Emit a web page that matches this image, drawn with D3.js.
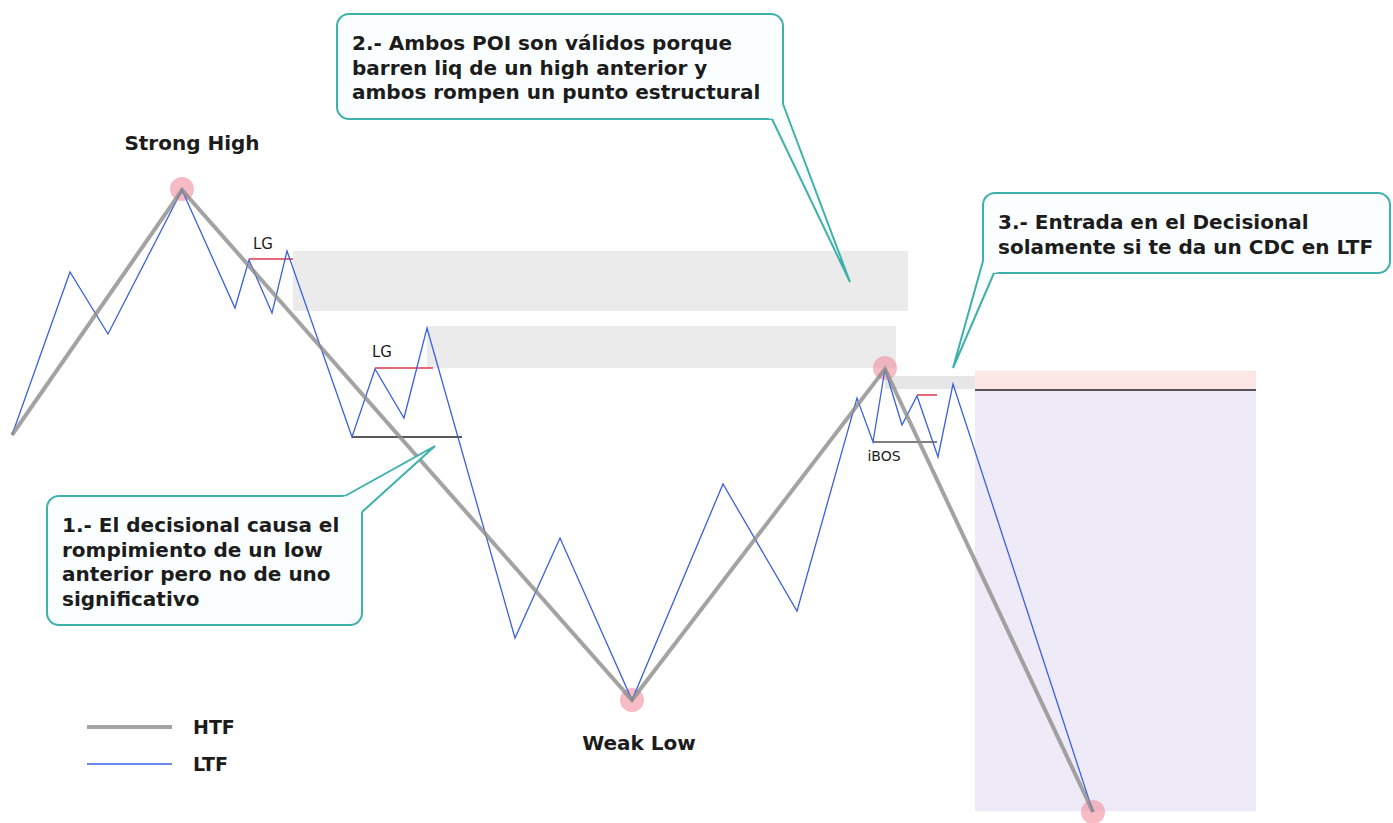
<!DOCTYPE html>
<html>
<head>
<meta charset="utf-8">
<script src="https://cdn.jsdelivr.net/npm/d3@7"></script>
<style>
  html, body { margin: 0; padding: 0; background: #fff; }
  svg { display: block; font-family: "DejaVu Sans", sans-serif; }
</style>
</head>
<body>
<div id="chart"></div>
<script>
// price path in [time, price]
const ltfPoints = [
  [1.2, 77.6], [7.0, 110.2], [10.8, 97.8], [18.2, 126.6], [23.5, 103.0],
  [24.9, 112.6], [27.2, 102.0], [28.7, 114.4], [35.2, 77.2], [37.5, 90.8],
  [40.4, 81.0], [42.7, 99.0], [51.5, 37.0], [56.0, 57.0], [63.2, 24.6],
  [72.3, 67.8], [79.7, 42.4], [85.7, 85.0], [87.3, 76.2], [88.5, 90.8],
  [90.2, 79.6], [91.7, 85.4], [93.8, 73.2], [95.3, 87.8], [109.3, 2.2]
];
const htfPoints = [[1.2, 77.6], [18.2, 126.6], [63.2, 24.6], [88.5, 90.8], [109.3, 2.2]];
const pivots = [[18.2, 126.8], [63.2, 24.6], [88.5, 91.0], [109.3, 2.2]];

const zones = [
  { t0: 97.5, t1: 125.6, p0: 2.4, p1: 86.6, kind: 'target' },
  { t0: 97.5, t1: 125.6, p0: 86.6, p1: 90.4, kind: 'risk' },
  { t0: 29.3, t1: 90.8, p0: 102.4, p1: 114.4, kind: 'poi' },
  { t0: 42.7, t1: 89.6, p0: 91.0, p1: 99.4, kind: 'poi' },
  { t0: 88.5, t1: 97.5, p0: 86.8, p1: 89.4, kind: 'poi2' }
];
const levels = [
  { t0: 24.9, t1: 29.3, p: 112.8, kind: 'liq' },
  { t0: 37.5, t1: 43.3, p: 91.0, kind: 'liq' },
  { t0: 35.2, t1: 46.2, p: 77.2, kind: 'break' },
  { t0: 87.3, t1: 93.7, p: 76.2, kind: 'ibos' },
  { t0: 91.7, t1: 93.7, p: 85.6, kind: 'liq' },
  { t0: 97.5, t1: 125.6, p: 86.6, kind: 'break' }
];
const labels = [
  { t: 19.2, p: 134.6, text: 'Strong High', kind: 'big' },
  { t: 63.9, p: 14.6, text: 'Weak Low', kind: 'big' },
  { t: 26.3, p: 114.8, text: 'LG', kind: 'small' },
  { t: 38.2, p: 93.2, text: 'LG', kind: 'small' },
  { t: 88.4, p: 72.4, text: 'iBOS', kind: 'tiny' }
];
const callouts = [
  { box: [4.7, 65.4, 36.2, 39.6], tail: [[34.5, 65.4], [43.5, 75.4], [36.2, 62.2]],
    lines: ['1.- El decisional causa el', 'rompimiento de un low', 'anterior pero no de uno', 'significativo'] },
  { box: [33.7, 161.8, 78.3, 140.8], tail: [[77.2, 140.8], [85.0, 108.2], [78.3, 143.8]],
    lines: ['2.- Ambos POI son válidos porque', 'barren liq de un high anterior y', 'ambos rompen un punto estructural'] },
  { box: [98.3, 126.0, 139.0, 110.0], tail: [[98.3, 112.4], [95.3, 91.0], [99.4, 110.0]],
    lines: ['3.- Entrada en el Decisional', 'solamente si te da un CDC en LTF'] }
];
const legendItems = ['HTF', 'LTF'];

const W = 1393, H = 823;
const teal = '#3fb1ab';
const zoneFill = { target: '#eeeaf8', risk: '#fce6e6', poi: '#ebebeb', poi2: '#e6e6e6' };
const levelColor = { liq: '#e0354d', break: '#222', ibos: '#555' };

const x = d3.scaleLinear().domain([0, 139.3]).range([0, W]);
const y = d3.scaleLinear().domain([0, 164.6]).range([H, 0]);

const svg = d3.select('#chart').append('svg')
  .attr('width', W)
  .attr('height', H);

svg.append('g').selectAll('rect')
  .data(zones)
  .join('rect')
  .attr('x', d => x(d.t0))
  .attr('y', d => y(d.p1))
  .attr('width', d => x(d.t1) - x(d.t0))
  .attr('height', d => y(d.p0) - y(d.p1))
  .attr('fill', d => zoneFill[d.kind]);

svg.append('g').selectAll('line')
  .data(levels)
  .join('line')
  .attr('x1', d => x(d.t0))
  .attr('x2', d => x(d.t1))
  .attr('y1', d => y(d.p))
  .attr('y2', d => y(d.p))
  .attr('stroke', d => levelColor[d.kind])
  .attr('stroke-width', 1.5);

svg.append('g').selectAll('circle')
  .data(pivots)
  .join('circle')
  .attr('cx', d => x(d[0]))
  .attr('cy', d => y(d[1]))
  .attr('r', 12)
  .attr('fill', '#f08e9e')
  .attr('opacity', 0.6);

const line = d3.line().x(d => x(d[0])).y(d => y(d[1]));

svg.append('path')
  .attr('d', line(ltfPoints))
  .attr('fill', 'none')
  .attr('stroke', '#3b60e0')
  .attr('stroke-width', 1.3);

svg.append('path')
  .attr('d', line(htfPoints))
  .attr('fill', 'none')
  .attr('stroke', '#8c8c8c')
  .attr('stroke-opacity', 0.8)
  .attr('stroke-width', 4);

const labelFont = { big: ['20px', 'bold'], small: ['15px', 'normal'], tiny: ['14px', 'normal'] };
svg.append('g').selectAll('text')
  .data(labels)
  .join('text')
  .attr('x', d => x(d.t))
  .attr('y', d => y(d.p))
  .attr('text-anchor', 'middle')
  .attr('font-size', d => labelFont[d.kind][0])
  .attr('font-weight', d => labelFont[d.kind][1])
  .attr('fill', '#1c1c1c')
  .text(d => d.text);

// callouts: rounded box, tail on top, then text
callouts.forEach(c => {
  const g = svg.append('g');
  const x0 = x(c.box[0]), x1 = x(c.box[2]);
  const y0 = y(c.box[1]), y1 = y(c.box[3]);
  g.append('rect')
    .attr('x', x0).attr('y', y0)
    .attr('width', x1 - x0).attr('height', y1 - y0)
    .attr('rx', 12)
    .attr('fill', '#fbfefe')
    .attr('stroke', teal)
    .attr('stroke-width', 2);
  const [b1, tip, b2] = c.tail.map(d => [x(d[0]), y(d[1])]);
  const cx = (x0 + x1) / 2, cy = (y0 + y1) / 2;
  g.append('path')
    .attr('d', `M${b1}L${tip}L${b2}L${cx},${cy}Z`)
    .attr('fill', '#fbfefe');
  g.append('path')
    .attr('d', `M${b1}L${tip}L${b2}`)
    .attr('fill', 'none')
    .attr('stroke', teal)
    .attr('stroke-width', 2);
  g.selectAll('text')
    .data(c.lines)
    .join('text')
    .attr('x', x0 + 15)
    .attr('y', (d, i) => y0 + 36 + i * 24.5)
    .attr('font-size', '20px')
    .attr('font-weight', 'bold')
    .attr('fill', '#1c1c1c')
    .text(d => d);
});

// legend
const legend = svg.append('g').attr('transform', 'translate(87,727)');
legend.selectAll('line')
  .data(legendItems)
  .join('line')
  .attr('x1', 0).attr('x2', 85)
  .attr('y1', (d, i) => i * 37).attr('y2', (d, i) => i * 37)
  .attr('stroke', (d, i) => i ? '#3b60e0' : '#a3a3a3')
  .attr('stroke-width', (d, i) => i ? 1.3 : 4);
legend.selectAll('text')
  .data(legendItems)
  .join('text')
  .attr('x', 106)
  .attr('y', (d, i) => i * 37 + 7)
  .attr('font-size', '19px')
  .attr('font-weight', 'bold')
  .attr('fill', '#1c1c1c')
  .text(d => d);
</script>
</body>
</html>
